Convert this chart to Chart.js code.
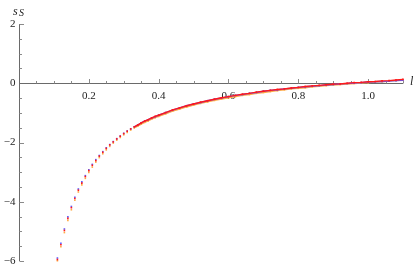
<!DOCTYPE html>
<html><head><meta charset="utf-8">
<script src="https://cdn.jsdelivr.net/npm/chart.js@4"></script>
<style>html,body{margin:0;padding:0;background:#fff}#wrap{width:415px;height:270px;position:relative}</style>
</head><body><div id="wrap"><canvas id="c"></canvas></div>
<script>
const lValues = [0.11,0.12,0.13,0.14,0.15,0.16,0.17,0.18,0.19,0.20,0.21,0.22,0.23,0.24,0.25,0.26,0.27,0.28,0.29,0.30,
  0.31,0.32,0.33,0.34,0.35,0.36,0.37,0.38,0.39,0.40,
  0.42,0.44,0.46,0.48,0.50,0.52,0.54,0.56,0.58,0.60,0.62,0.64,0.66,0.68,0.70,0.72,0.74,0.76,0.78,0.80,
  0.82,0.84,0.86,0.88,0.90,0.92,0.94,0.96,0.98,1.00,1.02,1.04,1.06,1.08,1.10];
const sRed = [-5.95,-5.45,-4.97,-4.56,-4.20,-3.89,-3.61,-3.37,-3.15,-2.95,-2.77,-2.61,-2.46,-2.33,-2.20,-2.08,-1.98,-1.88,-1.79,-1.70,
  -1.62,-1.54,-1.47,-1.41,-1.34,-1.28,-1.23,-1.17,-1.12,-1.08,
  -0.99,-0.90,-0.83,-0.76,-0.70,-0.64,-0.59,-0.54,-0.49,-0.45,-0.41,-0.37,-0.34,-0.30,-0.27,-0.24,-0.21,-0.19,-0.16,-0.14,
  -0.11,-0.09,-0.07,-0.05,-0.03,-0.02,0.00,0.02,0.03,0.05,0.06,0.08,0.09,0.11,0.13];
const sBlue = [-5.90,-5.40,-4.92,-4.51,-4.16,-3.85,-3.57,-3.33,-3.12,-2.92,-2.74,-2.58,-2.44,-2.31,-2.18,-2.07,-1.97,-1.87,-1.78,-1.69,
  -1.61,-1.54,-1.47,-1.41,-1.34,-1.28,-1.23,-1.18,-1.13,-1.08,
  -0.99,-0.91,-0.83,-0.76,-0.70,-0.65,-0.59,-0.54,-0.50,-0.45,-0.41,-0.38,-0.34,-0.31,-0.27,-0.24,-0.22,-0.19,-0.17,-0.14,
  -0.12,-0.10,-0.08,-0.06,-0.04,-0.02,-0.01,0.01,0.02,0.04,0.05,0.06,0.07,0.09,0.10];
const sOrange = [-5.99,-5.52,-5.04,-4.63,-4.27,-3.95,-3.67,-3.43,-3.21,-3.01,-2.83,-2.66,-2.51,-2.38,-2.25,-2.13,-2.02,-1.92,-1.83,-1.74,
  -1.66,-1.58,-1.51,-1.45,-1.38,-1.32,-1.27,-1.21,-1.16,-1.12,
  -1.03,-0.94,-0.87,-0.80,-0.74,-0.68,-0.63,-0.58,-0.53,-0.49,-0.45,-0.41,-0.38,-0.34,-0.31,-0.28,-0.25,-0.22,-0.19,-0.17,
  -0.15,-0.12,-0.10,-0.08,-0.06,-0.04,-0.03,-0.01,0.01,0.02,0.04,0.05,0.07,0.09,0.11];
const xMajorTicks = [0.2,0.4,0.6,0.8,1.0];
const xTickLabels = ['0.2','0.4','0.6','0.8','1.0'];
const yMajorTicks = [2,0,-2,-4,-6];
const yTickLabels = ['2','0','\u22122','\u22124','\u22126'];
const xMinorStep = 0.05;
const yMinorStep = 0.5;

function mkData(arr){ return lValues.map((l,i)=>({x:l,y:arr[i]})); }
function mkSet(arr,color){
  return {
    data: mkData(arr), showLine: true, borderWidth: 1.4, borderColor: color,
    backgroundColor: color, pointBackgroundColor: color, pointBorderWidth: 0,
    pointStyle: 'rect', pointRadius: 1.15, pointHoverRadius: 1.15,
    segment: { borderColor: c => c.p0.parsed.x < 0.325 ? 'rgba(0,0,0,0)' : color }
  };
}

const axesPlugin = {
  id: 'mmaAxes',
  beforeDatasetsDraw(chart){
    const ctx = chart.ctx, xs = chart.scales.x, ys = chart.scales.y;
    const x0 = Math.round(xs.getPixelForValue(0)) + 0.5;
    const y0 = Math.round(ys.getPixelForValue(0)) + 0.5;
    ctx.save();
    ctx.strokeStyle = '#6a6a6a'; ctx.lineWidth = 1;
    ctx.beginPath();
    ctx.moveTo(x0, y0); ctx.lineTo(xs.getPixelForValue(xs.max), y0);
    ctx.moveTo(x0, ys.getPixelForValue(ys.max)); ctx.lineTo(x0, ys.getPixelForValue(ys.min));
    ctx.stroke();
    ctx.strokeStyle = '#8a8a8a';
    ctx.beginPath();
    for (let k = 1; k * xMinorStep <= xs.max + 1e-9; k++) {
      const v = k * xMinorStep;
      const px = Math.round(xs.getPixelForValue(v)) + 0.5;
      const major = k % 4 === 0;
      ctx.moveTo(px, y0); ctx.lineTo(px, y0 - (major ? 4.5 : 2.5));
    }
    for (let k = Math.ceil(ys.min / yMinorStep); k * yMinorStep <= ys.max + 1e-9; k++) {
      if (k === 0) continue;
      const v = k * yMinorStep;
      const py = Math.round(ys.getPixelForValue(v)) + 0.5;
      const major = k % 4 === 0;
      ctx.moveTo(x0, py); ctx.lineTo(x0 + (major ? 4.5 : 2.5), py);
    }
    ctx.stroke();
    ctx.fillStyle = '#222';
    ctx.font = '11px "Liberation Serif"';
    ctx.textAlign = 'center'; ctx.textBaseline = 'middle';
    xMajorTicks.forEach((v,i)=>{ ctx.fillText(xTickLabels[i], xs.getPixelForValue(v), y0 + 13); });
    ctx.textAlign = 'right';
    yMajorTicks.forEach((v,i)=>{ ctx.fillText(yTickLabels[i], x0 - 4, ys.getPixelForValue(v)); });
    ctx.font = 'italic 12px "Liberation Serif"';
    ctx.textAlign = 'left';
    ctx.fillText('l', xs.getPixelForValue(xs.max) + 7, y0 - 2);
    ctx.fillText('s', 13, 12);
    ctx.font = 'italic 10px "Liberation Serif"';
    ctx.fillText('S', 19, 13);
    ctx.restore();
  }
};

new Chart(document.getElementById('c'), {
  type: 'scatter',
  data: { datasets: [ mkSet(sRed,'#ff1a1a'), mkSet(sBlue,'#5c5cff'), mkSet(sOrange,'#ffaa44') ] },
  options: {
    responsive: true, maintainAspectRatio: false, animation: false,
    layout: { padding: { left: 19, right: 12, top: 24, bottom: 9 } },
    plugins: { legend: { display: false }, tooltip: { enabled: false } },
    scales: {
      x: { type: 'linear', min: 0, max: 1.1, display: false },
      y: { type: 'linear', min: -6, max: 2, display: false }
    },
    elements: { line: { tension: 0 } },
    clip: false
  },
  plugins: [axesPlugin]
});
</script>
</body></html>
